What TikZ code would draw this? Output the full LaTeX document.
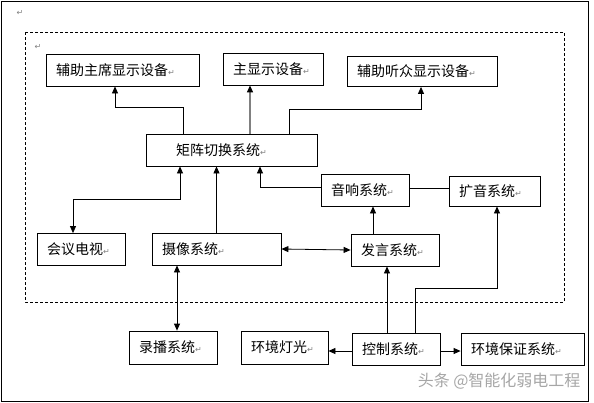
\documentclass[tikz,border=0pt]{standalone}
\usepackage{fontspec}
\setmainfont{Noto Sans CJK SC}
\newfontfamily\symfont{DejaVu Sans}
\usetikzlibrary{arrows.meta}
\newcommand{\retmark}{{\symfont\fontsize{8pt}{8pt}\selectfont\color{gray}↵}}

\tikzset{
	sysbox/.style={draw, line width=0.8pt, minimum height=32pt, inner xsep=10pt, inner ysep=0pt,
		text width=#1, align=left, font=\fontsize{14pt}{16pt}\selectfont},
	link/.style={line width=0.8pt, -{Triangle[length=7pt,width=6pt,black]}},
	dlink/.style={line width=0.8pt, {Triangle[length=7pt,width=6pt]}-{Triangle[length=7pt,width=6pt]}},
}

\begin{document}
\begin{tikzpicture}[x=1pt, y=-1pt]
	\useasboundingbox (0,0) rectangle (594,402);
	% outer frame and dashed region
	\draw[line width=0.9pt] (1,1) rectangle (588,401);
	\draw[line width=0.8pt, dash pattern=on 3pt off 2pt] (25,32) rectangle (564,302);
	\node (ret1) at (20,13) {\retmark};
	\node (ret2) at (38,47) {\retmark};

	% display devices
	\node[sysbox=133pt] (chair) at (122.5,70) {辅助主席显示设备\retmark};
	\node[sysbox=80pt] (main) at (273,69) {主显示设备\retmark};
	\node[sysbox=130pt, minimum height=30pt] (audience) at (422,71.5) {辅助听众显示设备\retmark};

	% switching and audio
	\node[sysbox=151pt] (switcher) at (231.5,150) {\hspace*{20pt}矩阵切换系统\retmark};
	\node[sysbox=68pt] (audio) at (365,190) {音响系统\retmark};
	\node[sysbox=71pt, minimum height=30pt] (amp) at (494.5,191) {扩音系统\retmark};

	% middle row
	\node[sysbox=68pt] (tv) at (81,249.5) {会议电视\retmark};
	\node[sysbox=109pt] (camera) at (216.5,249) {摄像系统\retmark};
	\node[sysbox=68pt] (speech) at (395,250) {发言系统\retmark};

	% bottom row
	\node[sysbox=68pt, minimum height=33pt] (record) at (173,347.5) {录播系统\retmark};
	\node[sysbox=67pt, minimum height=33pt] (light) at (284.5,347.5) {环境灯光\retmark};
	\node[sysbox=68pt] (control) at (396,349) {控制系统\retmark};
	\node[sysbox=103pt] (envguard) at (522.5,349) {环境保证系统\retmark};

	% switcher to displays
	\draw[link] ([xshift=-48.5pt]switcher.north) -- ++(0,-26) -| ([xshift=-7.5pt]chair.south);
	\draw[link, gray, line width=1.2pt] ([xshift=18.5pt]switcher.north) -- ([xshift=-23pt]main.south);
	\draw[link] ([xshift=57.5pt]switcher.north) -- ++(0,-24) -| ([xshift=-1pt]audience.south);

	% inputs to switcher
	\draw[dlink] ([xshift=-51.5pt]switcher.south) -- ++(0,33) -| ([xshift=-8pt]tv.north);
	\draw[link] (camera.north) -- (camera.north |- switcher.south);
	\draw[link] ([yshift=3pt]audio.west) -| ([xshift=28.5pt]switcher.south);
	\draw[line width=0.8pt] ([yshift=2pt]audio.east) -- ([yshift=2pt]audio.east -| amp.west);

	% speech and camera
	\draw[link] ([xshift=-22pt]speech.north) -- ([xshift=8pt]audio.south);
	\draw[dlink] (camera.east) -- (speech.west);
	\draw[dlink] ([xshift=-39.5pt]camera.south) -- ([xshift=4pt]record.north);

	% control system
	\draw[link] ([xshift=-9pt]control.north) -- ([xshift=-8pt]speech.south);
	\draw[link] ([xshift=19pt]control.north) -- ++(0,-44) -| ([xshift=2.5pt]amp.south);
	\draw[link] ([yshift=-2pt]control.west) -- ([yshift=-2pt]control.west -| light.east);
	\draw[link] ([yshift=-2pt]control.east) -- ([yshift=-2pt]control.east -| envguard.west);

	% watermark
	\node[text=gray!70, font=\fontsize{16pt}{16pt}\selectfont, anchor=east] (mark) at (584,381) {头条 @智能化弱电工程};
\end{tikzpicture}
\end{document}
